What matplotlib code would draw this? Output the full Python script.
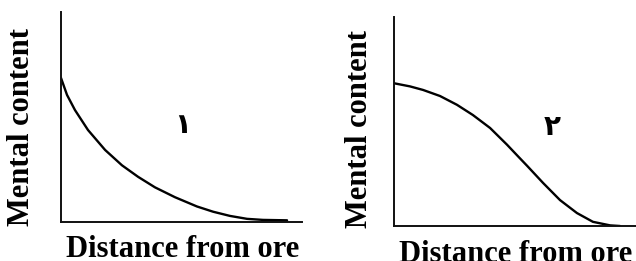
import matplotlib.pyplot as plt

# curve 1: fast decay (0-100 scale)
dist_1 = [0, 2.5, 5.8, 11.2, 18.3, 25.3, 32.0, 39.0, 47.3, 56.4, 63.1, 70.1, 77.2, 83.8, 93.8]
content_1 = [68.6, 60.5, 53.3, 43.8, 34.3, 27.0, 21.5, 16.5, 11.8, 7.4, 4.9, 2.9, 1.5, 1.0, 0.8]

# curve 2: slow then steep decline
dist_2 = [0, 6.6, 12.0, 19.0, 26.0, 32.6, 39.7, 46.7, 51.2, 55.0, 61.6, 68.6, 75.6, 82.2, 89.3, 93.4]
content_2 = [68.3, 66.8, 65.1, 62.2, 58.0, 53.1, 46.9, 38.9, 33.4, 28.8, 20.6, 12.4, 6.2, 2.0, 0.3, 0.0]

y_label = "Mental content"
x_label = "Distance from ore"
curve_tags = ["\u06f1", "\u06f2"]

fig = plt.figure(figsize=(6.36, 2.61), dpi=100)

W, H = 636.0, 261.0
# axes boxes in pixels: left, right, bottom, top
boxes = [(61, 302, 222, 12), (394, 636, 226, 17)]
curves = [(dist_1, content_1), (dist_2, content_2)]
tag_pos = [(183, 125), (552, 127)]
ylab_pos = [(22, 126.5), (359.5, 129)]
xlab_pos = [(183, 257), (516, 262)]

serif = dict(family="Liberation Serif", weight="bold", fontsize=22)

for i in range(2):
    l, r, b, t = boxes[i]
    ax = fig.add_axes([l / W, 1 - b / H, (r - l) / W, (b - t) / H])
    ax.plot(curves[i][0], curves[i][1], color="black", lw=1.7,
            solid_capstyle="round", solid_joinstyle="round")
    ax.set_xlim(0, 100)
    ax.set_ylim(0, 100)
    ax.set_xticks([])
    ax.set_yticks([])
    for s in ["top", "right"]:
        ax.spines[s].set_visible(False)
    for s in ["left", "bottom"]:
        ax.spines[s].set_linewidth(1.4)
        ax.spines[s].set_color("#111111")
    ax.patch.set_alpha(0)

    tx, ty = tag_pos[i]
    fig.text(tx / W, 1 - ty / H, curve_tags[i], ha="center", va="center",
             fontsize=20, fontweight="bold", family="DejaVu Sans")

    lx, ly = ylab_pos[i]
    fig.text(lx / W, 1 - ly / H, y_label, rotation=90, ha="center", va="center", **serif)

    bx, by = xlab_pos[i]
    fig.text(bx / W, 1 - by / H, x_label, ha="center", va="baseline", **serif)

fig.savefig("out.png", dpi=100)
